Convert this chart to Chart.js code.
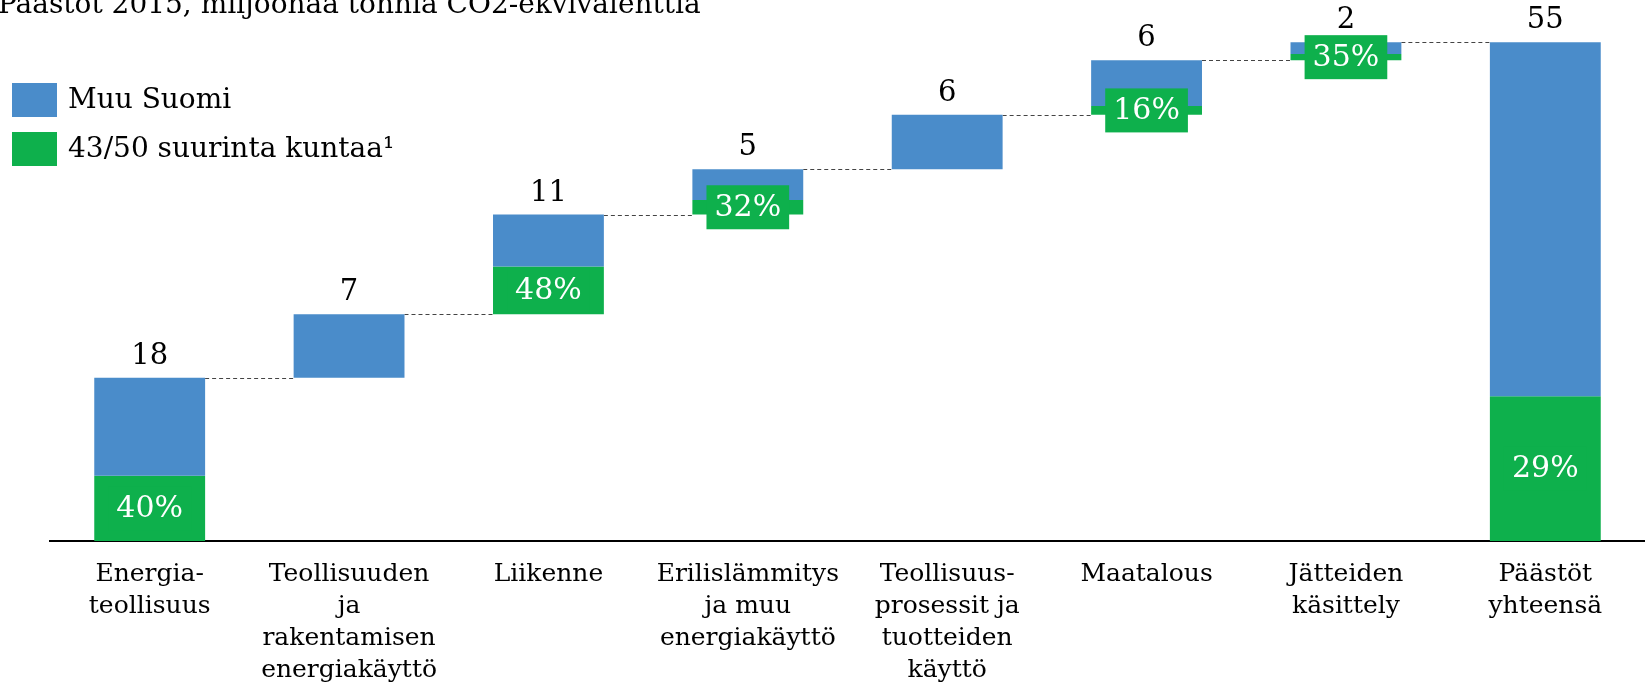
<!DOCTYPE html>
<html>
<head>
<meta charset="utf-8">
<script src="https://cdn.jsdelivr.net/npm/chart.js@4.4.1/dist/chart.umd.min.js"></script>
<style>
  body { margin: 0; background: #fff; }
  #wrap { width: 1645px; height: 690px; position: relative; }
</style>
</head>
<body>
<div id="wrap"><canvas id="myChart"></canvas></div>
<script>
const title = "Päästöt 2015, miljoonaa tonnia CO2-ekvivalenttia";
const categories = [
  ["Energia-", "teollisuus"],
  ["Teollisuuden", "ja", "rakentamisen", "energiakäyttö"],
  ["Liikenne"],
  ["Erilislämmitys", "ja muu", "energiakäyttö"],
  ["Teollisuus-", "prosessit ja", "tuotteiden", "käyttö"],
  ["Maatalous"],
  ["Jätteiden", "käsittely"],
  ["Päästöt", "yhteensä"]
];
const values = [18, 7, 11, 5, 6, 6, 2, 55];
const isTotal = [false, false, false, false, false, false, false, true];
// share of the 43/50 biggest municipalities, %
const shares = [40, null, 48, 32, null, 16, 35, 29];
const seriesNames = ["Muu Suomi", "43/50 suurinta kuntaa¹"];

const BLUE = '#4a8cca';
const GREEN = '#0eb04c';
const FONT = "'DejaVu Serif', Georgia, serif";

// waterfall bases
const bases = [];
let run = 0;
values.forEach((v, i) => {
  bases.push(isTotal[i] ? 0 : run);
  if (!isTotal[i]) run += v;
});
const greenPart = values.map((v, i) => shares[i] == null ? 0 : v * shares[i] / 100);

const greenData = values.map((v, i) => shares[i] == null ? null : [bases[i], bases[i] + greenPart[i]]);
const blueData = values.map((v, i) => [bases[i] + greenPart[i], bases[i] + v]);

const extras = {
  id: 'extras',
  beforeDatasetsDraw(chart) {
    const ctx = chart.ctx;
    const y = chart.scales.y;
    const meta = chart.getDatasetMeta(0);
    ctx.save();
    ctx.strokeStyle = '#444';
    ctx.lineWidth = 1;
    ctx.setLineDash([4, 3]);
    for (let i = 0; i < values.length - 1; i++) {
      const a = meta.data[i], b = meta.data[i + 1];
      const py = Math.round(y.getPixelForValue(bases[i] + values[i])) + 0.5;
      ctx.beginPath();
      ctx.moveTo(a.x + a.width / 2, py);
      ctx.lineTo(b.x - b.width / 2, py);
      ctx.stroke();
    }
    ctx.restore();
  },
  afterDatasetsDraw(chart) {
    const ctx = chart.ctx;
    const y = chart.scales.y;
    const blue = chart.getDatasetMeta(0);
    const green = chart.getDatasetMeta(1);
    ctx.save();
    ctx.textAlign = 'center';
    values.forEach((v, i) => {
      const bar = blue.data[i];
      // value on top
      ctx.fillStyle = '#000';
      ctx.font = '29px ' + FONT;
      ctx.textBaseline = 'alphabetic';
      ctx.fillText(String(v), bar.x, y.getPixelForValue(bases[i] + v) - 14);
      // share box
      if (shares[i] != null) {
        const g = green.data[i];
        const cy = (g.y + g.base) / 2;
        ctx.font = '30px ' + FONT;
        const txt = shares[i] + '%';
        const w = ctx.measureText(txt).width + 16;
        ctx.fillStyle = GREEN;
        ctx.fillRect(g.x - w / 2, cy - 22, w, 44);
        ctx.fillStyle = '#fff';
        ctx.textBaseline = 'middle';
        ctx.fillText(txt, g.x, cy + 1);
      }
    });
    ctx.restore();
  },
  afterDraw(chart) {
    const ctx = chart.ctx;
    ctx.save();
    // title, cut at the top like in the source
    ctx.fillStyle = '#000';
    ctx.font = '28px ' + FONT;
    ctx.textBaseline = 'alphabetic';
    ctx.textAlign = 'left';
    ctx.fillText(title, -2, 13);
    // legend
    const cols = [BLUE, GREEN];
    ctx.font = '28px ' + FONT;
    ctx.textBaseline = 'middle';
    seriesNames.forEach((name, k) => {
      const top = 83 + k * 49;
      ctx.fillStyle = cols[k];
      ctx.fillRect(12, top, 45, 34);
      ctx.fillStyle = '#000';
      ctx.fillText(name, 68, top + 18);
    });
    ctx.restore();
  }
};

new Chart(document.getElementById('myChart'), {
  type: 'bar',
  data: {
    labels: categories,
    datasets: [
      {
        label: seriesNames[0],
        data: blueData,
        backgroundColor: BLUE,
        grouped: false,
        barPercentage: 0.556,
        categoryPercentage: 1
      },
      {
        label: seriesNames[1],
        data: greenData,
        backgroundColor: GREEN,
        grouped: false,
        barPercentage: 0.556,
        categoryPercentage: 1
      }
    ]
  },
  options: {
    responsive: true,
    maintainAspectRatio: false,
    animation: false,
    layout: { padding: { left: 50, right: 0, top: 15, bottom: 0 } },
    plugins: {
      legend: { display: false },
      tooltip: { enabled: false },
      title: { display: false }
    },
    scales: {
      x: {
        grid: { display: false, drawTicks: false },
        border: { display: true, color: '#000', width: 2 },
        ticks: {
          color: '#000',
          padding: 17,
          maxRotation: 0,
          autoSkip: false,
          font: { family: FONT, size: 25, lineHeight: 1.28 }
        },
        afterFit(scale) { scale.height = 149; }
      },
      y: {
        display: false,
        min: 0,
        max: 58
      }
    }
  },
  plugins: [extras]
});
</script>
</body>
</html>
